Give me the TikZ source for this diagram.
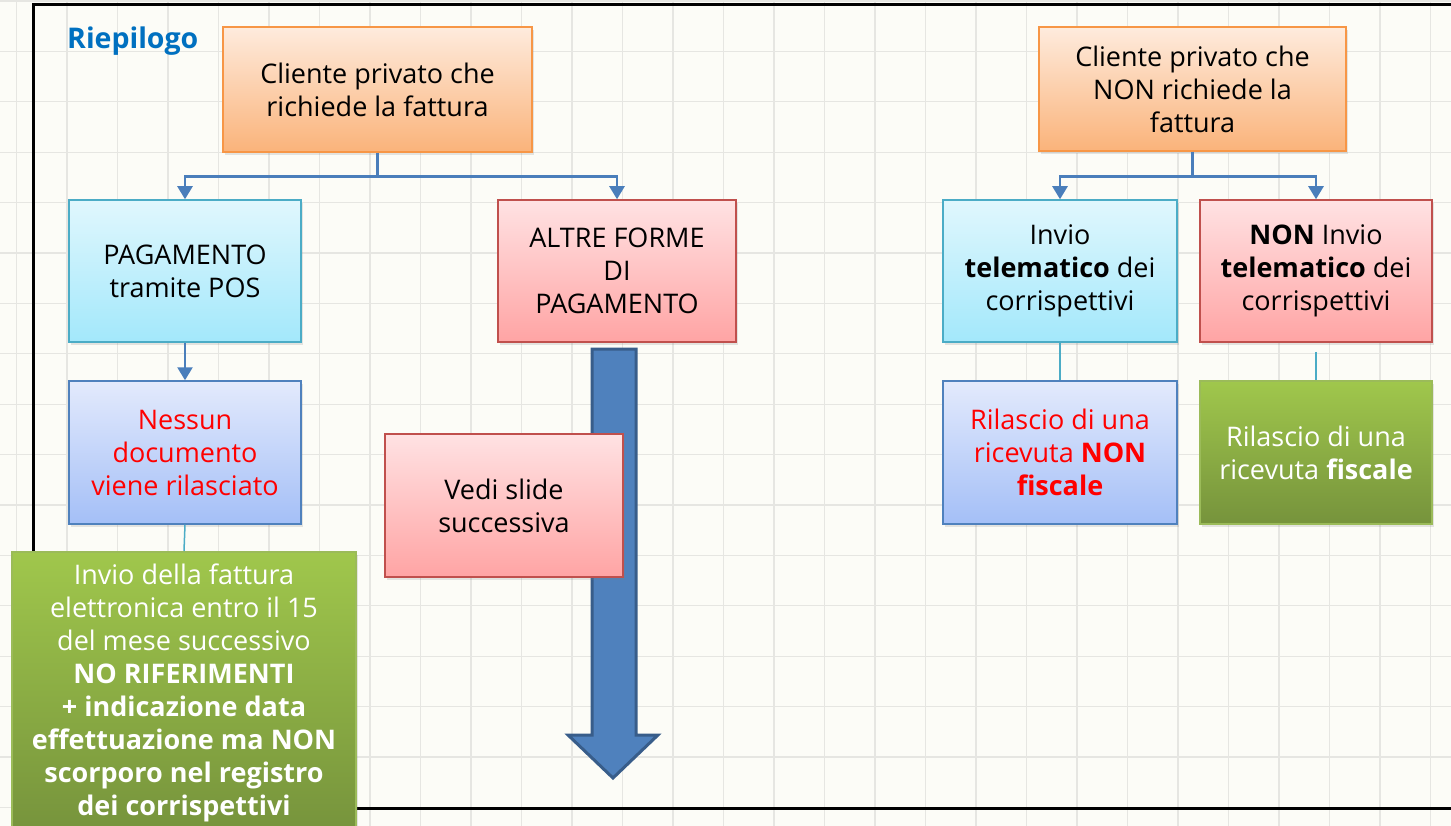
\documentclass[tikz,border=0pt]{standalone}
\usepackage{fontspec}
\setmainfont{Open Sans}
\usetikzlibrary{arrows.meta,shadows,calc}
\definecolor{bgc}{HTML}{FCFCF7}
\definecolor{gridc}{HTML}{E6E6E2}
\definecolor{orBorder}{HTML}{F79646}
\definecolor{orTop}{HTML}{FEEBDD}
\definecolor{orBot}{HTML}{FAB37A}
\definecolor{cyBorder}{HTML}{4BACC6}
\definecolor{cyTop}{HTML}{E0F7FD}
\definecolor{cyBot}{HTML}{A3E8FB}
\definecolor{blBorder}{HTML}{4F81BD}
\definecolor{blTop}{HTML}{E3EAFC}
\definecolor{blBot}{HTML}{A4BFF7}
\definecolor{rdBorder}{HTML}{C0504D}
\definecolor{rdTop}{HTML}{FFE2E3}
\definecolor{rdBot}{HTML}{FFA4A4}
\definecolor{grBorder}{HTML}{9BBB59}
\definecolor{grTop}{HTML}{A0C74C}
\definecolor{grBot}{HTML}{76933C}
\definecolor{arrowc}{HTML}{4A7EBB}
\definecolor{bigArrow}{HTML}{4F81BD}
\definecolor{bigArrowBorder}{HTML}{385D8A}
\definecolor{titlec}{HTML}{0070C0}
\definecolor{redtxt}{HTML}{FF0000}
\tikzset{
  box/.style={draw, line width=1.5pt, align=center, inner sep=4pt,
    font=\fontsize{27}{33}\selectfont,
    drop shadow={shadow xshift=2pt, shadow yshift=-3pt, opacity=0.2}},
  orbox/.style={box, draw=orBorder, top color=orTop, bottom color=orBot},
  cybox/.style={box, draw=cyBorder, top color=cyTop, bottom color=cyBot},
  blbox/.style={box, draw=blBorder, top color=blTop, bottom color=blBot},
  rdbox/.style={box, draw=rdBorder, top color=rdTop, bottom color=rdBot},
  grbox/.style={box, draw=grBorder, top color=grTop, bottom color=grBot, text=white},
  conn/.style={draw=arrowc, line width=2.5pt, -{Triangle[width=15pt,length=13pt]}},
  plainconn/.style={draw=arrowc, line width=2.5pt},
  thin/.style={draw=cyBorder, line width=1.5pt},
}
\begin{document}
\begin{tikzpicture}[x=1pt,y=-1pt]
\useasboundingbox (0,0) rectangle (1451,826);
\clip (0,0) rectangle (1451,826);
\fill[bgc] (0,0) rectangle (1451,826);
\foreach \i in {0,...,28} {\draw[gridc, line width=1.2pt] (16.5+50.5*\i,0) -- (16.5+50.5*\i,826);}
\foreach \j in {0,...,16} {\draw[gridc, line width=1.2pt] (0,1+50.4*\j) -- (1451,1+50.4*\j);}
% frame
\draw[black, line width=3pt] (33,5) rectangle (1480,808);
% title
\node[anchor=base west, inner sep=0pt, text=titlec, font=\fontsize{28.5}{32}\selectfont\bfseries] (title) at (67,49) {Riepilogo};
% big arrow
\filldraw[fill=bigArrow, draw=bigArrowBorder, line width=3pt, line join=miter]
  (592,349) -- (636,349) -- (636,735) -- (658,735) -- (613,778) -- (568,735) -- (592,735) -- cycle;
% left tree
\node[orbox, minimum width=309pt, minimum height=125pt] (o1) at (377.5,89.5) {Cliente privato che\\richiede la fattura};
\node[cybox, minimum width=232pt, minimum height=142pt] (c1) at (185,271) {PAGAMENTO\\tramite POS};
\node[rdbox, minimum width=238pt, minimum height=142pt] (r1) at (617,271) {ALTRE FORME\\DI\\PAGAMENTO};
\node[blbox, minimum width=232pt, minimum height=143pt, text=redtxt] (b1) at (185,452.5) {Nessun\\documento\\viene rilasciato};
\node[rdbox, minimum width=238pt, minimum height=143pt] (v1) at (504,505.5) {Vedi slide\\successiva};
\node[grbox, minimum width=344pt, minimum height=282pt, anchor=north] (g1) at (184,551) {Invio della fattura\\elettronica entro il 15\\del mese successivo\\\textbf{NO RIFERIMENTI}\\\textbf{+ indicazione data}\\\textbf{effettuazione ma NON}\\\textbf{scorporo nel registro}\\\textbf{dei corrispettivi}};
% right tree
\node[orbox, minimum width=307pt, minimum height=124pt] (o2) at (1192.5,89) {Cliente privato che\\NON richiede la\\fattura};
\node[cybox, minimum width=234pt, minimum height=142pt] (c2) at (1060,271) {Invio\\\textbf{telematico} dei\\corrispettivi};
\node[rdbox, minimum width=232pt, minimum height=142pt] (r2) at (1316,271) {\textbf{NON} Invio\\\textbf{telematico} dei\\corrispettivi};
\node[blbox, minimum width=234pt, minimum height=143pt, text=redtxt] (b2) at (1060,452.5) {Rilascio di una\\ricevuta \textbf{NON}\\\textbf{fiscale}};
\node[grbox, minimum width=232pt, minimum height=143pt] (g2) at (1316,452.5) {Rilascio di una\\ricevuta \textbf{fiscale}};
% connectors
\coordinate (j1) at ($(o1.south)+(0,24)$);
\draw[plainconn] (o1.south) -- (j1);
\draw[conn] (j1) -| (c1.north);
\draw[conn] (j1) -| (r1.north);
\coordinate (j2) at ($(o2.south)+(0,25)$);
\draw[plainconn] (o2.south) -- (j2);
\draw[conn] (j2) -| (c2.north);
\draw[conn] (j2) -| (r2.north);
\draw[conn] (c1.south) -- (b1.north);
\draw[thin] (b1.south) -- (g1.north);
\draw[thin] (c2.south) -- (b2.north);
\draw[thin] ([yshift=-9pt]r2.south) -- (g2.north);
\end{tikzpicture}
\end{document}
